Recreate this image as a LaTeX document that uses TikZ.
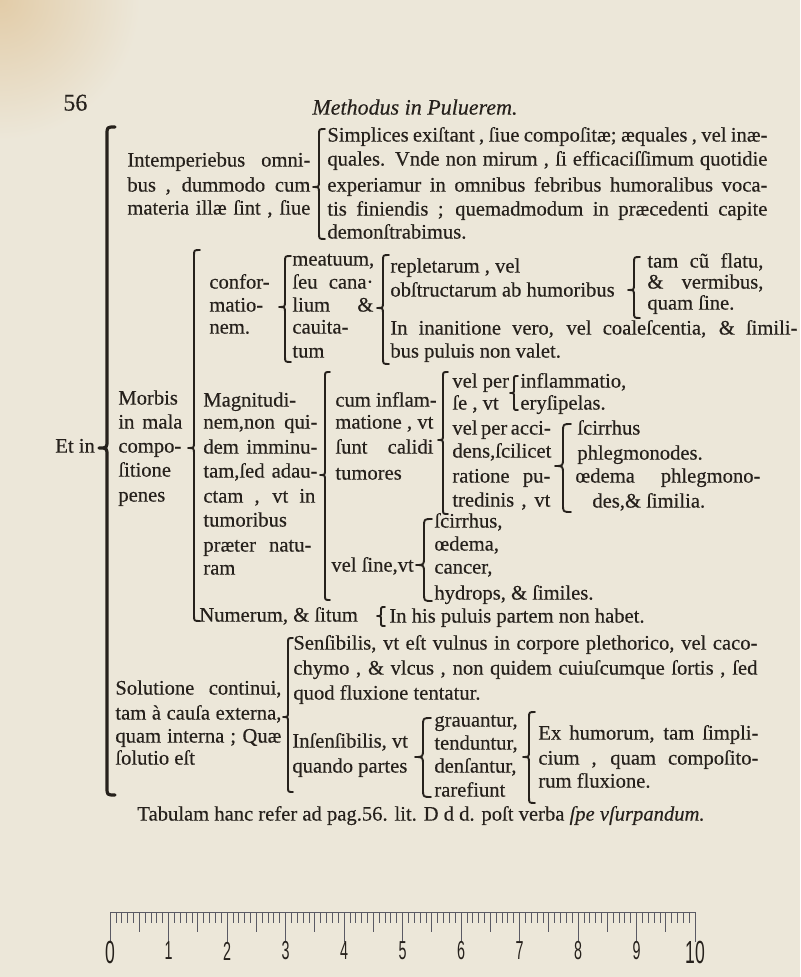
\documentclass[tikz,border=0pt]{standalone}
\usepackage{fontspec}
\usepackage{graphicx}
\setmainfont{Liberation Serif}[FakeBold=0.35]
\newfontfamily\rulerfont{Liberation Sans}
\definecolor{paper}{RGB}{236,231,217}
\definecolor{ink}{RGB}{38,33,28}
\definecolor{stain}{RGB}{226,204,168}
\definecolor{rulc}{RGB}{90,90,100}
\newcommand{\J}[2]{\makebox[#1][s]{#2}}
% brace: x, y-top, y-tip, y-bottom, amplitude
\newcommand{\brc}[6][]{%
  \draw[brc,#1] (#2+#6,#3) .. controls (#2,#3) .. (#2,#3+#6)
    -- (#2,#4-#6) .. controls (#2,#4) .. (#2-#6,#4)
    .. controls (#2,#4) .. (#2,#4+#6)
    -- (#2,#5-#6) .. controls (#2,#5) .. (#2+#6,#5);}
\tikzset{
  txt/.style={inner sep=0pt, anchor=mid west, text=ink, font=\fontsize{10.3}{12}\selectfont},
  brc/.style={draw=ink, line width=0.95pt, line cap=round, line join=round},
  rul/.style={draw=rulc, line width=0.35pt},
  rnum/.style={inner sep=0pt, anchor=center, text=ink, font=\rulerfont\fontsize{13}{13}\selectfont}
}
\begin{document}
\begin{tikzpicture}[x=0.5pt,y=-0.5pt]
\useasboundingbox (0,0) rectangle (800,977);
\begin{scope}
  \clip (0,0) rectangle (800,977);
  \fill[paper] (0,0) rectangle (800,977);
  \shade[inner color=stain, outer color=paper] (0,0) circle (140);
\end{scope}

% header
\node[txt,font=\fontsize{12}{14}\selectfont] (pg) at (63,106) {56};
\node[txt,font=\fontsize{11}{14}\selectfont\itshape] (title) at (312,110) {Methodus in Puluerem.};

% main brace
\brc[line width=1.6pt]{107}{127}{448}{795}{8}
\node[txt] (etin) at (55,448) {Et in};

% Intemperiebus block
\node[txt] (a1) at (127,162) {\J{91.5pt}{Intemperiebus omni-}};
\node[txt] (a2) at (127,187) {\J{91.5pt}{bus , dummodo cum}};
\node[txt] (a3) at (127,210) {\J{91.5pt}{materia illæ ſint , ſiue}};
\brc{319}{129}{187}{239}{6}
\node[txt] (b1) at (327,137) {\J{220pt}{Simplices exiſtant , ſiue compoſitæ; æquales , vel inæ-}};
\node[txt] (b2) at (327,161) {\J{220pt}{quales. Vnde non mirum , ſi efficaciſſimum quotidie}};
\node[txt] (b3) at (327,187) {\J{220pt}{experiamur in omnibus febribus humoralibus voca-}};
\node[txt] (b4) at (327,211) {\J{220pt}{tis finiendis ; quemadmodum in præcedenti capite}};
\node[txt] (b5) at (327,234) {demonſtrabimus.};

% Morbis block
\node[txt] (g1) at (118,400) {Morbis};
\node[txt] (g2) at (118,424) {\J{32pt}{in mala}};
\node[txt] (g3) at (118,448) {compo-};
\node[txt] (g4) at (118,472) {ſitione};
\node[txt] (g5) at (118,497) {penes};
\brc{194}{250}{448}{621}{6}

% conformationem
\node[txt] (c1) at (209,284) {confor-};
\node[txt] (c2) at (209,307) {matio-};
\node[txt] (c3) at (209,329) {nem.};
\brc{285}{256}{307}{362}{6}
\node[txt] (d1) at (292,261) {meatuum,};
\node[txt] (d2) at (292,284) {\J{40.5pt}{ſeu cana·}};
\node[txt] (d3) at (292,307) {\J{40.5pt}{lium \&}};
\node[txt] (d4) at (292,329) {cauita-};
\node[txt] (d5) at (292,353) {tum};
\brc{383}{255}{308}{364}{6}
\node[txt] (e1) at (390,268) {repletarum , vel};
\node[txt] (e2) at (390,292) {obſtructarum ab humoribus};
\brc{634}{257}{290}{318}{6}
\node[txt] (f1) at (647,263) {\J{58pt}{tam cũ flatu,}};
\node[txt] (f2) at (647,284) {\J{58pt}{\& vermibus,}};
\node[txt] (f3) at (647,305) {quam ſine.};
\node[txt] (e3) at (390,330) {\J{203.5pt}{In inanitione vero, vel coaleſcentia, \& ſimili-}};
\node[txt] (e4) at (390,353) {bus puluis non valet.};

% Magnitudinem
\node[txt] (m1) at (203,402) {Magnitudi-};
\node[txt] (m2) at (203,424) {\J{57pt}{nem,non qui-}};
\node[txt] (m3) at (203,449) {\J{57pt}{dem imminu-}};
\node[txt] (m4) at (203,473) {\J{57pt}{tam,ſed adau-}};
\node[txt] (m5) at (203,498) {\J{56pt}{ctam , vt in}};
\node[txt] (m6) at (203,522) {tumoribus};
\node[txt] (m7) at (203,547) {\J{54pt}{præter natu-}};
\node[txt] (m8) at (203,570) {ram};
\brc{325}{372}{475}{600}{5}

\node[txt] (n1) at (335,402) {cum inflam-};
\node[txt] (n2) at (335,424) {\J{49pt}{matione , vt}};
\node[txt] (n3) at (335,449) {\J{49pt}{ſunt calidi}};
\node[txt] (n4) at (335,475) {tumores};
\brc{443}{372}{440}{514}{5}

\node[txt] (p1) at (452,383) {vel per};
\node[txt] (p2) at (452,405) {ſe , vt};
\brc{514}{376}{393}{410}{4}
\node[txt] (q1) at (520,383) {inflammatio,};
\node[txt] (q2) at (520,405) {eryſipelas.};
\node[txt] (p3) at (452,430) {\J{49pt}{vel per acci-}};
\node[txt] (p4) at (452,453) {\J{49pt}{dens,ſcilicet}};
\node[txt] (p5) at (452,478) {\J{49pt}{ratione pu-}};
\node[txt] (p6) at (452,502) {\J{49pt}{tredinis , vt}};
\brc{563}{424}{466}{512}{8}
\node[txt] (r1) at (577,430) {ſcirrhus};
\node[txt] (r2) at (577,455) {phlegmonodes.};
\node[txt] (r3) at (575,478) {\J{92.5pt}{œdema phlegmono-}};
\node[txt] (r4) at (592,503) {des,\& ſimilia.};

\node[txt] (s0) at (331,567) {vel ſine,vt};
\brc{424}{519}{565}{601}{8}
\node[txt] (s1) at (434,523) {ſcirrhus,};
\node[txt] (s2) at (434,546) {œdema,};
\node[txt] (s3) at (434,569) {cancer,};
\node[txt] (s4) at (434,595) {hydrops, \& ſimiles.};

\node[txt] (u1) at (199,617) {Numerum, \& ſitum};
\brc{381}{607}{616}{626}{4}
\node[txt] (u3) at (389,618) {In his puluis partem non habet.};

% Solutione continui
\node[txt] (v1) at (115,690) {\J{83pt}{Solutione continui,}};
\node[txt] (v2) at (115,715) {\J{83pt}{tam à cauſa externa,}};
\node[txt] (v3) at (115,738) {\J{83pt}{quam interna ; Quæ}};
\node[txt] (v4) at (115,760) {ſolutio eſt};
\brc{288}{638}{717}{792}{5}
\node[txt] (w1) at (293,645) {\J{232pt}{Senſibilis, vt eſt vulnus in corpore plethorico, vel caco-}};
\node[txt] (w2) at (293,670) {\J{232pt}{chymo , \& vlcus , non quidem cuiuſcumque ſortis , ſed}};
\node[txt] (w3) at (293,695) {quod fluxione tentatur.};
\node[txt] (w4) at (292,743) {Inſenſibilis, vt};
\node[txt] (w5) at (292,768) {quando partes};
\brc{423}{718}{757}{797}{8}
\node[txt] (x1) at (434,722) {grauantur,};
\node[txt] (x2) at (434,745) {tenduntur,};
\node[txt] (x3) at (434,768) {denſantur,};
\node[txt] (x4) at (434,792) {rarefiunt};
\brc{529}{712}{757}{803}{6}
\node[txt] (y1) at (538,735) {\J{110pt}{Ex humorum, tam ſimpli-}};
\node[txt] (y2) at (538,760) {\J{110pt}{cium , quam compoſito-}};
\node[txt] (y3) at (538,783) {rum fluxione.};

% footer
\node[txt] (foot) at (137,816) {Tabulam hanc refer ad pag.56. lit. D d d. poſt verba \textit{ſpe vſurpandum.}};

% ruler
\draw[rul] (110,912) -- (695,912);
\foreach \i in {0,...,100}{
  \pgfmathsetmacro{\ticklen}{ifthenelse(mod(\i,10)==0,30,ifthenelse(mod(\i,5)==0,20,11))}
  \draw[rul] (110+5.85*\i,912) -- ++(0,\ticklen);
}
\foreach \i in {1,...,9}{
  \node[rnum] (r\i) at (110+58.5*\i,951) {\scalebox{0.55}[1]{\i}};
}
\node[rnum,font=\rulerfont\fontsize{16}{16}\selectfont] (r0) at (110,952) {\scalebox{0.55}[1]{0}};
\node[rnum,font=\rulerfont\fontsize{16}{16}\selectfont] (r10) at (695,952) {\scalebox{0.55}[1]{10}};
\end{tikzpicture}
\end{document}
